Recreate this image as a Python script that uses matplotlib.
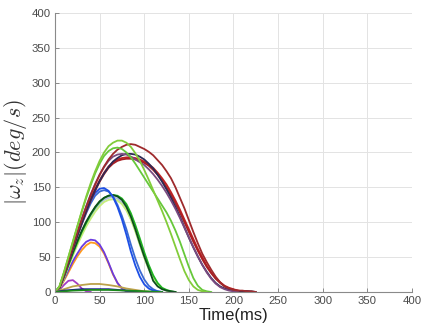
import numpy as np
import matplotlib
matplotlib.use("Agg")
import matplotlib.pyplot as plt

plt.rcParams["font.family"] = ["Liberation Sans", "DejaVu Sans"]
plt.rcParams["mathtext.fontset"] = "cm"

# sample times (ms), 5 ms apart
t5 = np.arange(0, 230, 5)
t10 = np.arange(0, 130, 10)

# |omega_z| traces (deg/s) at 5 ms steps
green_a = [0, 8, 28, 50, 72, 94, 116, 137, 156, 173, 188, 200, 209, 214, 217, 217,
           214, 208, 199, 188, 175, 161, 146, 131, 116, 100, 83, 65, 47, 30, 17, 8,
           3, 1, 0]
green_b = [0, 8, 28, 50, 72, 94, 115, 135, 153, 170, 184, 195, 202, 206, 207, 205,
           200, 193, 184, 174, 164, 154, 144, 134, 124, 114, 102, 88, 72, 54, 36, 20,
           9, 3, 1, 0]
dark_red = [0, 7, 25, 45, 65, 85, 104, 122, 139, 154, 168, 180, 190, 198, 204, 208,
            211, 212, 211, 208, 205, 201, 196, 189, 182, 173, 163, 150, 135, 120, 103,
            86, 70, 55, 43, 32, 22, 14, 8, 5, 3, 2, 2, 1, 1, 0]
purple_big = [0, 7, 26, 46, 66, 86, 105, 123, 140, 155, 168, 179, 188, 194, 197, 198,
              197, 194, 190, 186, 182, 176, 169, 161, 152, 142, 131, 119, 106, 92, 78,
              64, 51, 39, 28, 19, 12, 7, 4, 2, 1, 0]
navy_big = [0, 6, 24, 43, 62, 81, 99, 116, 132, 146, 159, 170, 179, 187, 192, 196,
            198, 198, 197, 194, 190, 184, 177, 168, 158, 147, 135, 122, 108, 93, 78,
            64, 51, 39, 29, 20, 13, 8, 5, 3, 2, 1, 1, 1, 1, 0]
red_a = [0, 6, 23, 42, 61, 80, 98, 115, 131, 145, 158, 169, 178, 184, 188, 190, 191,
         191, 190, 188, 185, 181, 175, 168, 160, 150, 139, 127, 114, 100, 86, 72, 59,
         47, 36, 27, 19, 13, 8, 5, 3, 2, 1, 1, 0]
red_b = [0, 6, 24, 44, 64, 83, 101, 118, 134, 148, 160, 171, 180, 186, 190, 192, 193,
         193, 192, 190, 187, 183, 178, 171, 163, 154, 143, 131, 118, 104, 90, 76, 62,
         50, 38, 28, 20, 14, 9, 6, 4, 2, 1, 1, 0]
blue_a = [0, 7, 25, 45, 65, 84, 102, 118, 132, 142, 148, 149, 145, 136, 122, 104, 82,
          58, 38, 22, 11, 5, 2, 1, 0]
blue_b = [0, 6, 23, 42, 61, 80, 97, 113, 127, 138, 144, 146, 144, 137, 125, 109, 90,
          68, 48, 31, 18, 9, 4, 1, 0]
green_dark = [0, 6, 22, 40, 57, 73, 88, 101, 112, 122, 130, 135, 138, 139, 137, 132,
              122, 108, 90, 70, 51, 34, 16, 8, 4, 2, 1, 0]
green_mid = [0, 5, 21, 38, 55, 71, 86, 99, 111, 121, 129, 135, 138, 139, 138, 134, 126,
             113, 96, 77, 57, 39, 24, 13, 6, 3, 1, 0]
green_light = [0, 5, 20, 36, 52, 67, 81, 94, 105, 115, 123, 129, 132, 133, 131, 126,
               117, 104, 87, 68, 49, 33, 20, 11, 5, 2, 0]
lavender = [0, 5, 20, 37, 53, 69, 83, 96, 108, 118, 126, 132, 135, 136, 134, 128, 119,
            105, 88, 69, 50, 33, 20, 11, 5, 2, 0]
purple_mid = [0, 6, 18, 31, 44, 55, 65, 72, 75, 74, 68, 57, 42, 26, 13, 5, 1, 0]
orange = [0, 5, 16, 28, 40, 51, 60, 67, 71, 70, 65, 55, 41, 25, 13, 5, 1, 0]
magenta = [0, 3, 10, 16, 17, 12, 5, 1, 0]

# low traces at 10 ms steps
olive = [0, 4, 8, 10, 11.5, 11.5, 10, 8, 5, 3, 1, 0]
navy_flat = [0, 2, 3, 4, 4, 4, 4, 3, 2, 1, 0]
green_flat = [0, 1, 2, 2.5, 3, 3, 3, 2.5, 2, 1.5, 1, 0.5, 0]

curves_5 = [
    (magenta, "#a43cc4"),
    (orange, "#ff9a1e"),
    (purple_mid, "#6b3be0"),
    (lavender, "#aebce0"),
    (green_light, "#c6ee7c"),
    (green_mid, "#1fb51f"),
    (green_dark, "#0c4f1c"),
    (blue_b, "#3a6ad2"),
    (blue_a, "#1d4fe6"),
    (red_b, "#c02222"),
    (red_a, "#a81e24"),
    (navy_big, "#2c2a55"),
    (purple_big, "#7a4a80"),
    (dark_red, "#9e2a2c"),
    (green_b, "#66c83a"),
    (green_a, "#82cc3a"),
]
curves_10 = [
    (olive, "#bca24a"),
    (navy_flat, "#16168c"),
    (green_flat, "#1a8a1a"),
]

fig = plt.figure(figsize=(4.23, 3.32), dpi=100)
ax = fig.add_axes([0.130, 0.1205, 0.844, 0.8405])

for vals, col in curves_5:
    ax.plot(t5[:len(vals)], vals, color=col, lw=1.3)
for vals, col in curves_10:
    ax.plot(t10[:len(vals)], vals, color=col, lw=1.3)

ax.set_xlim(0, 400)
ax.set_ylim(0, 400)
ax.set_xticks(np.arange(0, 401, 50))
ax.set_yticks(np.arange(0, 401, 50))
ax.grid(True, color="#e3e3e3", lw=0.7)
ax.set_axisbelow(True)
for s in ["top", "right"]:
    ax.spines[s].set_visible(False)
for s in ["left", "bottom"]:
    ax.spines[s].set_color("#8a8a8a")
    ax.spines[s].set_linewidth(0.8)
ax.tick_params(direction="in", length=3, width=0.7, color="#8a8a8a",
               labelcolor="#4a4a4a", labelsize=8.2, pad=3)

ax.set_xlabel("Time(ms)", fontsize=12, color="#222222", labelpad=1)
ax.set_ylabel(r"$|\omega_z|(deg/s)$", fontsize=16, color="#333333", labelpad=2)

fig.savefig("out.png", dpi=100)
